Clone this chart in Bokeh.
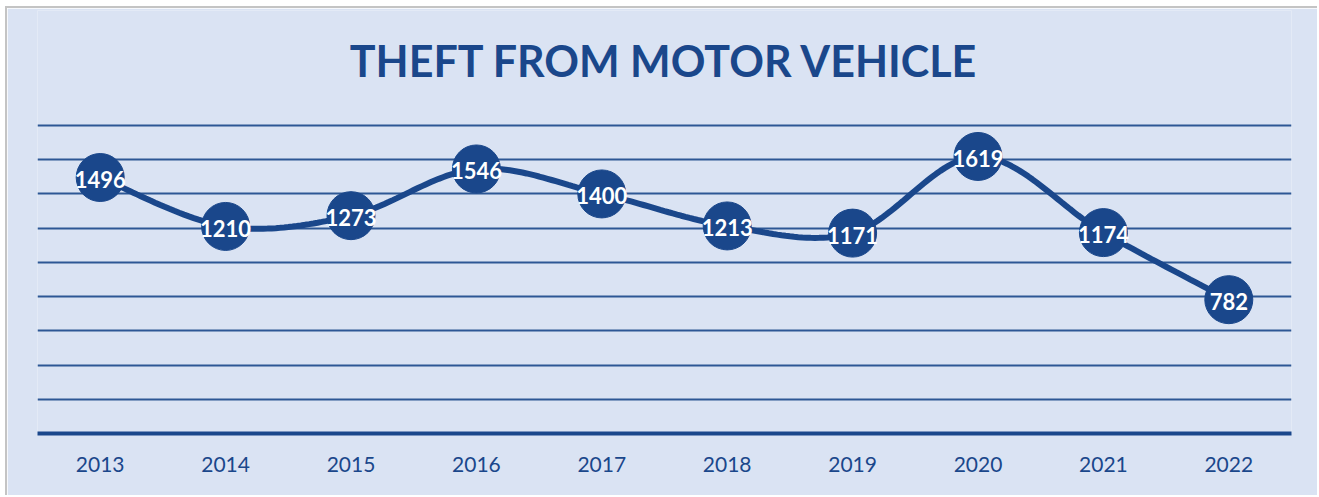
import numpy as np
from bokeh.plotting import figure
from bokeh.models import FactorRange, Range1d, FixedTicker, Label, ColumnDataSource
from bokeh.core.properties import value
from bokeh.embed import file_html
from bokeh.resources import INLINE

# ---- data ----
years = ["2013", "2014", "2015", "2016", "2017", "2018", "2019", "2020", "2021", "2022"]
thefts = [1496, 1210, 1273, 1546, 1400, 1213, 1171, 1619, 1174, 782]
grid_ticks = [200, 400, 600, 800, 1000, 1200, 1400, 1600, 1800]
title_text = "THEFT FROM MOTOR VEHICLE"

# ---- style ----
BG = "#dae3f3"
DARK = "#1a478b"
FONT = "Lato"

p = figure(
    width=1312, height=489,
    x_range=FactorRange(*years, range_padding=0),
    y_range=Range1d(0, 2472),
    output_backend="svg", toolbar_location=None,
    min_border_left=30, min_border_right=28, min_border_top=2, min_border_bottom=64,
    styles={"margin-left": "5px", "margin-top": "6px",
            "border-left": "2px solid #c4c4c4", "border-top": "2px solid #c4c4c4"},
)
p.background_fill_color = BG
p.border_fill_color = BG
p.outline_line_color = None

# grid
p.xgrid.visible = False
p.ygrid.ticker = FixedTicker(ticks=grid_ticks)
p.ygrid.grid_line_color = DARK
p.ygrid.grid_line_width = 2
p.ygrid.grid_line_alpha = 0.9
p.yaxis.visible = False

# x axis
ax = p.xaxis[0]
ax.axis_line_color = DARK
ax.axis_line_width = 4
ax.major_tick_line_color = None
ax.minor_tick_line_color = None
ax.major_label_text_font = FONT
ax.major_label_text_font_size = "21px"
ax.major_label_text_color = DARK
ax.major_label_standoff = 17

# smoothed line (Catmull-Rom through the data points, in category units)
xs = np.arange(len(years)) + 0.5
ys = np.array(thefts, dtype=float)
pts = np.column_stack([xs, ys])
n = len(pts)
cx, cy = [], []
for i in range(n - 1):
    p0 = pts[max(i - 1, 0)]
    p1 = pts[i]
    p2 = pts[i + 1]
    p3 = pts[min(i + 2, n - 1)]
    for t in np.linspace(0, 1, 30, endpoint=(i == n - 2)):
        t2, t3 = t * t, t * t * t
        pt = 0.5 * ((2 * p1) + (-p0 + p2) * t + (2 * p0 - 5 * p1 + 4 * p2 - p3) * t2
                    + (-p0 + 3 * p1 - 3 * p2 + p3) * t3)
        cx.append(pt[0])
        cy.append(pt[1])
p.line(cx, cy, line_color=DARK, line_width=6)

src = ColumnDataSource(dict(year=years, val=thefts, lab=[str(v) for v in thefts]))
p.scatter(x="year", y="val", source=src, size=48, fill_color=DARK, line_color=DARK)
p.text(x="year", y="val", text="lab", source=src, text_color="white",
       text_font=value(FONT), text_font_style="bold", text_font_size="22px",
       text_align="center", text_baseline="middle", y_offset=2)

title = Label(x=5, y=2180, text=title_text, text_align="center", text_baseline="middle",
              text_font=FONT, text_font_style="bold", text_font_size="43px", text_color=DARK)
p.add_layout(title)

open("out.html", "w").write(file_html(p, INLINE))
